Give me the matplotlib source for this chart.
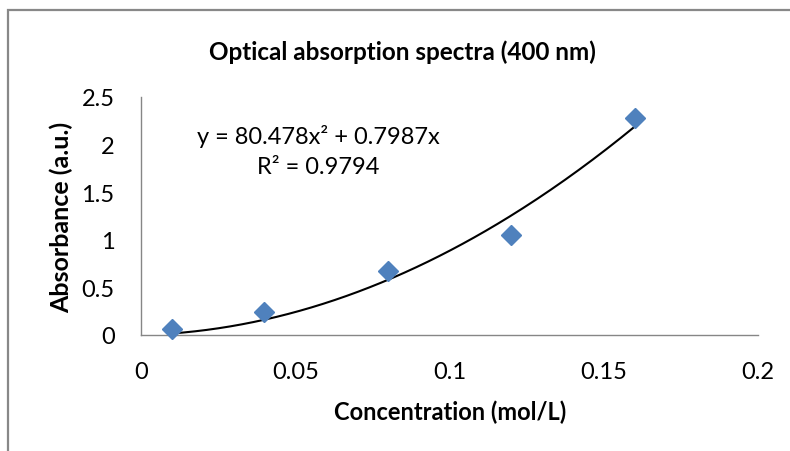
import numpy as np
import matplotlib.pyplot as plt
from matplotlib.patches import Rectangle

plt.rcParams['font.family'] = ['Lato', 'DejaVu Sans']

# Data
conc = [0.01, 0.04, 0.08, 0.12, 0.16]
absorbance = [0.06, 0.24, 0.67, 1.05, 2.28]

# Excel polynomial trendline (order 2, intercept 0)
coef_a = 80.478
coef_b = 0.7987
r_squared = 0.9794

x_ticks = [0, 0.05, 0.1, 0.15, 0.2]
x_tick_labels = ['0', '0.05', '0.1', '0.15', '0.2']
y_ticks = [0, 0.5, 1, 1.5, 2, 2.5]
y_tick_labels = ['0', '0.5', '1', '1.5', '2', '2.5']

fs = 17

fig = plt.figure(figsize=(7.9, 4.52), dpi=100)
ax = fig.add_axes([141/790, 1 - 336/452, (758 - 141)/790, (336 - 98)/452])

# chart border (only top/left visible in the crop)
fig.patches.append(Rectangle((8/790, -0.1), 1.2, 1.1 - 11/452, transform=fig.transFigure,
                             fill=False, edgecolor='#888888', linewidth=1.6))

xs = np.linspace(min(conc), max(conc), 200)
ax.plot(xs, np.polyval([coef_a, coef_b, 0], xs), color='black', linewidth=1.5, zorder=2)
ax.plot(conc, absorbance, linestyle='none', marker='D', markersize=10,
        color='#4F81BD', markeredgecolor='#4F81BD', zorder=3, clip_on=False)

ax.set_xlim(0, 0.2)
ax.set_ylim(0, 2.5)
ax.set_xticks(x_ticks)
ax.set_xticklabels(x_tick_labels)
ax.set_yticks(y_ticks)
ax.set_yticklabels(y_tick_labels)
ax.tick_params(axis='both', length=0, labelsize=fs)
ax.tick_params(axis='x', pad=19)
ax.tick_params(axis='y', pad=19)

for s in ['top', 'right']:
    ax.spines[s].set_visible(False)
for s in ['left', 'bottom']:
    ax.spines[s].set_color('#868686')
    ax.spines[s].set_linewidth(1.0)

fig.text(450/790, 1 - 412/452, 'Concentration (mol/L)', ha='center', va='center',
         fontsize=fs, fontweight='bold')
fig.text(61/790, 1 - 217/452, 'Absorbance (a.u.)', ha='center', va='center', rotation=90,
         fontsize=18, fontweight='bold')
fig.text(402/790, 1 - 52/452, 'Optical absorption spectra (400 nm)', ha='center', va='center',
         fontsize=17.5, fontweight='bold')

fig.text(318/790, 1 - 137/452, 'y = %.3fx\u00b2 + %.4fx' % (coef_a, coef_b),
         ha='center', va='center', fontsize=fs)
fig.text(318/790, 1 - 167/452, 'R\u00b2 = %.4f' % r_squared,
         ha='center', va='center', fontsize=fs)

fig.savefig('out.png', dpi=100)
